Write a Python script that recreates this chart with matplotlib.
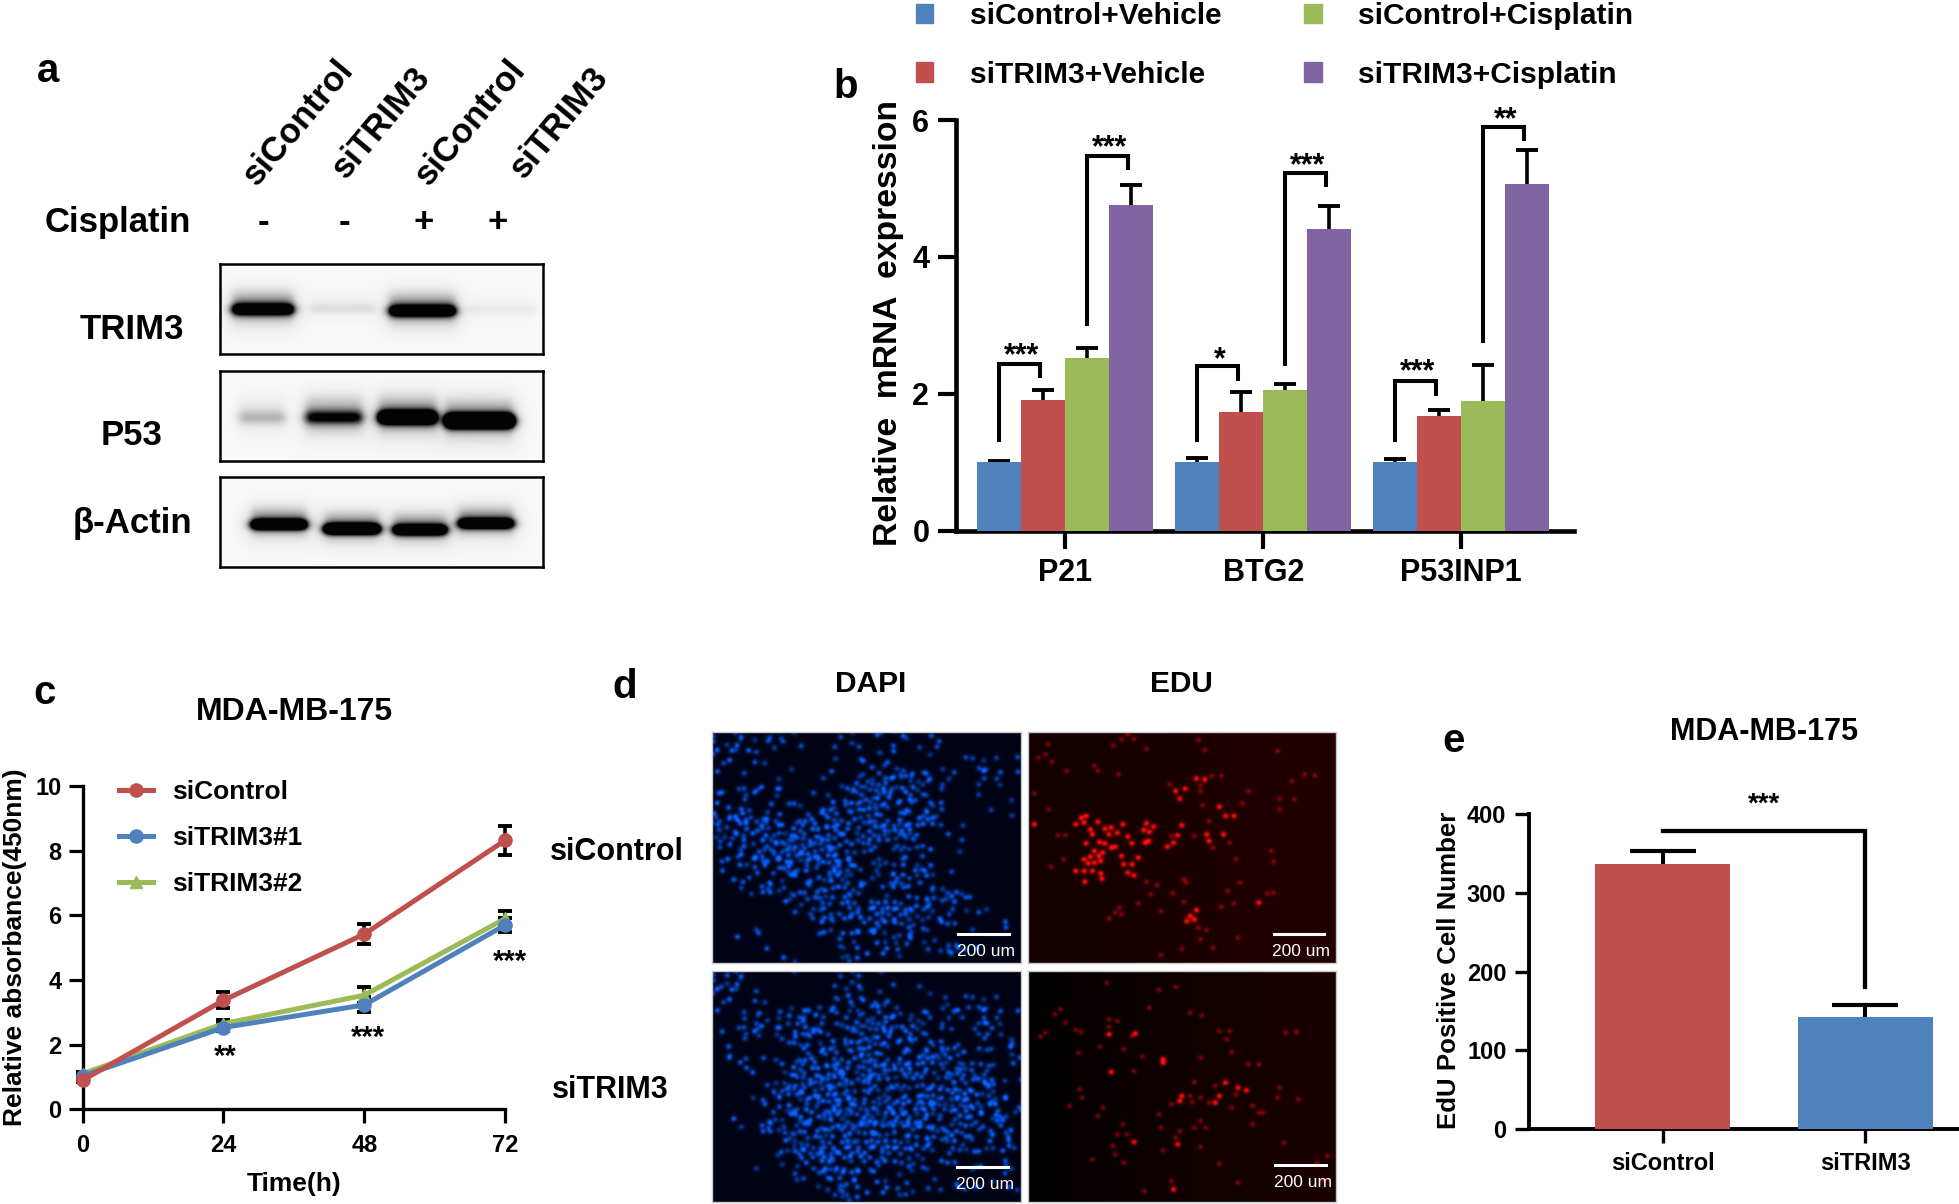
import numpy as np
import matplotlib
matplotlib.use("Agg")
import matplotlib.pyplot as plt
from matplotlib.lines import Line2D
from matplotlib.patches import Patch

plt.rcParams['font.family'] = ['Liberation Sans', 'DejaVu Sans']
plt.rcParams['font.weight'] = 'bold'

W, H = 1959, 1204
BLUE, RED, GREEN, PURPLE = '#4f81bd', '#c0504d', '#9bbb59', '#8064a2'

# ---------- panel a data ----------
blot_lanes = ['siControl', 'siTRIM3', 'siControl', 'siTRIM3']
blot_cisplatin = ['-', '-', '+', '+']
blot_names = ['TRIM3', 'P53', 'β-Actin']
trim3_strength = [1.4, 0.07, 1.5, 0.04]
p53_strength = [0.18, 0.75, 2.0, 3.0]
actin_strength = [1.9, 2.2, 1.8, 1.6]

# ---------- panel b data ----------
b_genes = ['P21', 'BTG2', 'P53INP1']
b_groups = ['siControl+Vehicle', 'siTRIM3+Vehicle', 'siControl+Cisplatin', 'siTRIM3+Cisplatin']
b_ctrl_veh = [1.00, 1.00, 1.00]
b_trim_veh = [1.91, 1.73, 1.68]
b_ctrl_cis = [2.53, 2.05, 1.90]
b_trim_cis = [4.76, 4.41, 5.07]
b_err_ctrl_veh = [0.02, 0.06, 0.05]
b_err_trim_veh = [0.15, 0.30, 0.09]
b_err_ctrl_cis = [0.14, 0.10, 0.52]
b_err_trim_cis = [0.29, 0.34, 0.49]
b_br_gene = [0, 0, 1, 1, 2, 2]
b_br_left = [0, 2, 0, 2, 0, 2]
b_br_y_left = [1.33, 3.02, 1.33, 2.43, 1.33, 2.77]
b_br_y_top = [2.43, 5.47, 2.41, 5.22, 2.18, 5.90]
b_br_y_right = [2.26, 5.30, 2.21, 5.05, 1.99, 5.72]
b_br_star = ['***', '***', '*', '***', '***', '**']
b_br_star_y = [2.69, 5.73, 2.63, 5.47, 2.46, 6.14]

# ---------- panel c data ----------
c_hours = [0, 24, 48, 72]
c_sicontrol = [0.90, 3.37, 5.42, 8.32]
c_sitrim1 = [1.03, 2.53, 3.23, 5.70]
c_sitrim2 = [1.10, 2.65, 3.53, 5.90]
c_err_sicontrol = [0.05, 0.25, 0.30, 0.45]
c_err_sitrim1 = [0.05, 0.12, 0.23, 0.23]
c_err_sitrim2 = [0.05, 0.12, 0.24, 0.24]
c_stars = ['**', '***', '***']
c_star_x = [24.3, 48.6, 72.7]
c_star_y = [1.92, 2.50, 4.84]

dapi_top = ["232112222100", "232002331131", "111014664031", "223146775111",
            "365576763101", "368885772000", "368885552100", "146676535100",
            "023353356300", "000335655410", "010013653310", "001003312210"]
dapi_bottom = ["300103100000", "210024421230", "143545543141", "132657564241",
               "112667765643", "003788867853", "013788877753", "026888998653",
               "005777777652", "002566543441", "000556410332", "000024332111"]
edu_top_bright = [(918,295),(930,290),(905,315),(925,310),(940,330),(958,308),(975,328),(990,325),(1018,315),
    (1075,312),(1092,322),(1068,332),(1082,338),(1030,352),(1005,340),(985,345),(945,345),(962,368),(975,372),
    (930,372),(950,395),(970,400),(960,410),(940,412),(925,420),(935,432),(950,430),(965,425),(990,385),
    (1000,382),(1015,410),(1040,372),(1080,365),(1072,370),(1020,435),(1030,460),(1045,468),(1040,435),
    (1055,415),(925,455),(945,455),(965,462),(968,478),(905,455),(927,487),(805,315),(1140,370),(1125,382),
    (1150,348),(1160,318),(1220,345),(1225,365),(1260,345),(1250,262),(1265,290),(1285,290),(1195,178),
    (1215,180),(1145,215),(1168,208),(1155,238),(1195,572),(1180,590),(1172,605),(1190,600),(1345,550)]
edu_top_dim = [(880,348),(862,348),(875,420),(845,442),(1135,350),(1190,350),(1235,385),(1275,370),(1210,258),
    (1225,305),(1305,252),(1232,170),(1255,170),(1205,198),(1205,215),(1130,195),(1008,165),(883,155),(848,128),
    (832,105),(815,115),(838,75),(1015,60),(1030,45),(1045,58),(995,78),(1200,62),(1215,92),(1075,88),(1390,95),
    (1480,168),(1455,165),(1425,185),(1430,240),(1395,270),(1375,395),(1380,428),(1320,215),(1290,420),(1170,490),
    (1165,480),(1100,497),(1085,525),(1075,488),(1138,522),(1055,552),(1010,565),(1015,585),(1000,580),(985,597),
    (1110,575),(1165,548),(1220,632),(1200,625),(1205,660),(1160,688),(1235,685),(1110,707),(1295,655),(1285,552),
    (1255,562),(1365,522),(1380,520),(1300,490),(1270,515),(805,222),(950,140),(958,155),(840,270),(1395,238)]
edu_bottom_bright = [(1115,1020),(1115,1030),(1295,1105),(1160,1130),(1155,1145),(1250,1130),(1240,1150),
    (1265,1090),(1315,1113),(985,945),(1048,942),(990,1058),(1045,1268),(1150,1275),(1140,1410)]
edu_bottom_dim = [(980,790),(1145,803),(1105,812),(868,870),(855,885),(880,910),(905,932),(918,938),(832,940),
    (820,952),(985,900),(1005,905),(985,922),(1040,950),(1082,865),(1208,888),(1180,880),(1250,935),(1275,935),
    (1268,960),(1410,940),(1435,938),(912,1000),(963,982),(1020,990),(1205,1015),(1280,998),(1045,1055),(1065,1012),
    (915,1110),(920,1135),(890,1160),(970,1165),(958,1190),(1190,1088),(1240,1100),(1290,1125),(1180,1130),(1185,1148),
    (1205,1135),(1225,1150),(1135,1155),(1105,1185),(1330,1160),(1345,1180),(1355,1180),(1330,1215),(1280,1165),
    (1395,1105),(1390,1135),(1440,1140),(1320,1035),(1345,1035),(1018,1215),(1005,1245),(1028,1245),(1110,1225),
    (1205,1205),(1190,1225),(1218,1225),(1155,1235),(1145,1255),(995,1280),(1000,1305),(945,1320),(1020,1330),
    (1115,1293),(1135,1385),(1070,1415),(1250,1333),(1205,1283),(1295,1390),(1405,1270),(1510,1310),(1485,1330),(1500,1385)]

# ---------- panel e data ----------
e_groups = ['siControl', 'siTRIM3']
e_values = [336.6, 143.0]
e_errors = [17.0, 14.7]


fig = plt.figure(figsize=(W / 100, H / 100), dpi=100, facecolor='white')


def px_axes(x0, y0, x1, y1):
    return fig.add_axes([x0 / W, 1 - y1 / H, (x1 - x0) / W, (y1 - y0) / H])


def label(x, y, s, size, **kw):
    kw.setdefault('ha', 'center')
    kw.setdefault('va', 'center')
    kw.setdefault('fontweight', 'bold')
    if kw.get('rotation') != 90:
        y = y + 3.5
    return fig.text(x / W, 1 - y / H, s, fontsize=size, **kw)


def stars(ax, x, y, s, size):
    ax.annotate(s, (x, y), xytext=(0, -0.59 * size), textcoords='offset points',
                ha='center', va='baseline', fontsize=size, annotation_clip=False)


def up_errorbar(ax, x, y, err, **kw):
    eb = ax.errorbar(x, y, yerr=[np.zeros(len(y)), err], fmt='none', ecolor='black', **kw)
    eb[1][0].set_visible(False)
    return eb


# ---------- panel letters ----------
for x, y, s in [(48, 67, 'a'), (846, 84, 'b'), (45, 689, 'c'), (625, 684, 'd'), (1454, 738, 'e')]:
    label(x, y, s, 29)

# ---------- panel a ----------
lane_cx = [298, 381, 470, 559]
for cx, s in zip(lane_cx, blot_lanes):
    label(cx, 119, s, 25, rotation=50, rotation_mode='anchor')
label(118, 219, 'Cisplatin', 25)
for cx, s in zip([263, 344, 424, 498], blot_cisplatin):
    label(cx, 219, s, 25)

blots = [
    ((264, 354), [(233, 293), (310, 375), (390, 455), (467, 536)], [309.5, 308.6, 311, 310], 5.5, trim3_strength, 326),
    ((371, 461), [(239, 285), (306, 362), (379, 436), (446, 513)], [417.5, 417.5, 417.5, 421], 6.5, p53_strength, 432),
    ((477, 567), [(252, 306), (325, 379), (394, 446), (459, 513)], [524.6, 529, 530, 523.6], 5.0, actin_strength, 520),
]
for name, ((y0, y1), xs, ycs, hh, amp, ly) in zip(blot_names, blots):
    ax = px_axes(220, y0, 543, y1)
    xx, yy = np.meshgrid(np.arange(220, 543) + .5, np.arange(y0, y1) + .5)
    dark = np.zeros_like(xx, dtype=float)
    for (a, b), yc, s in zip(xs, ycs, amp):
        sx = 0.5 * (np.tanh((xx - a) / 5) - np.tanh((xx - b) / 5))
        dark += s * sx * np.exp(-((yy - yc) / hh) ** 2)
        dark += 0.45 * min(s, 1) * sx * np.exp(-((yy - yc + 3) / (2.3 * hh)) ** 2)
        dark += 0.08 * min(s, 1) * 0.5 * (np.tanh((xx - a + 8) / 10) - np.tanh((xx - b - 8) / 10)) * np.exp(-((yy - yc) / (4.0 * hh)) ** 2)
    ax.imshow(0.975 - np.clip(dark, 0, 0.96), cmap='gray', vmin=0, vmax=1, aspect='auto',
              extent=(220, 543, y1, y0), interpolation='bilinear')
    ax.set_xticks([]); ax.set_yticks([])
    for sp in ax.spines.values():
        sp.set_linewidth(1.8)
    label(132, ly, name, 25)

# ---------- panel b ----------
ax = px_axes(955.7, 120, 1573.8, 530.7)
x_c = np.arange(len(b_genes))
bw = 44 / 198
series = [b_ctrl_veh, b_trim_veh, b_ctrl_cis, b_trim_cis]
errs = [b_err_ctrl_veh, b_err_trim_veh, b_err_ctrl_cis, b_err_trim_cis]
cols = [BLUE, RED, GREEN, PURPLE]
for i, (vals, er, c) in enumerate(zip(series, errs, cols)):
    pos = x_c + (i - 1.5) * bw
    up_errorbar(ax, pos, vals, er, elinewidth=2.6, capsize=7.8, capthick=2.8, zorder=2, clip_on=False)
    ax.bar(pos, vals, bw, color=c, label=b_groups[i], zorder=3)
ax.set_xlim((955.7 - 1065.3) / 198, (1573.8 - 1065.3) / 198)
ax.set_ylim(0, 6)
ax.set_xticks(x_c, b_genes)
ax.set_yticks([0, 2, 4, 6])
ax.tick_params(axis='y', length=13, width=3, labelsize=22, pad=6)
ax.tick_params(axis='x', length=13, width=3, labelsize=22, pad=7)
for s in ['top', 'right']:
    ax.spines[s].set_visible(False)
for s in ['left', 'bottom']:
    ax.spines[s].set_linewidth(3.3)
for g, l, yl, yt, yr, st, sy in zip(b_br_gene, b_br_left, b_br_y_left, b_br_y_top, b_br_y_right, b_br_star, b_br_star_y):
    xl = g + (l - 1.5) * bw
    xr = g + (l - 0.5) * bw - 0.015
    ax.plot([xl, xl, xr, xr], [yl, yt, yt, yr], color='black', lw=2.9, clip_on=False, zorder=4,
            solid_joinstyle='miter')
    stars(ax, (xl + xr) / 2 + 0.01, sy, st, 22)
label(888.5, 323, 'Relative  mRNA  expression', 24.2, rotation=90)
hs = [Patch(color=c) for c in cols]
fig.legend(hs, b_groups, loc='upper left', bbox_to_anchor=(915.5 / W, 1 - 2.0 / H), ncols=2, frameon=False,
           fontsize=21.5, borderpad=0, borderaxespad=0, handlelength=0.6, handleheight=0.65, handletextpad=1.22,
           labelspacing=1.03, columnspacing=2.75)

# ---------- panel c ----------
ax = px_axes(82.5, 785.8, 505.4, 1109.4)
for vals, er, c, m, ms, z, lab in [
    (c_sitrim2, c_err_sitrim2, GREEN, '^', 9, 3, 'siTRIM3#2'),
    (c_sitrim1, c_err_sitrim1, BLUE, 'o', 9.5, 4, 'siTRIM3#1'),
    (c_sicontrol, c_err_sicontrol, RED, 'o', 9.5, 5, 'siControl'),
]:
    ax.errorbar(c_hours, vals, yerr=er, fmt='none', ecolor='black', elinewidth=2.6, capsize=5, capthick=2.8,
                zorder=2, clip_on=False)
    ax.plot(c_hours, vals, color=c, lw=3.6, marker=m, ms=ms, zorder=z, clip_on=False, label=lab)
ax.set_xlim(0, 72)
ax.set_ylim(0, 10)
ax.set_xticks(c_hours)
ax.set_yticks(range(0, 11, 2))
ax.tick_params(axis='both', length=10, width=2.3, labelsize=17)
ax.tick_params(axis='x', pad=8)
ax.tick_params(axis='y', pad=5)
for s in ['top', 'right']:
    ax.spines[s].set_visible(False)
for s in ['left', 'bottom']:
    ax.spines[s].set_linewidth(2.4)
for x, y, s in zip(c_star_x, c_star_y, c_stars):
    stars(ax, x, y, s, 21)
handles, labels_ = ax.get_legend_handles_labels()
order = [2, 1, 0]
fig.legend([handles[i] for i in order], [labels_[i] for i in order], loc='upper left',
           bbox_to_anchor=(118.6 / W, 1 - 780 / H), frameon=False, fontsize=19, borderpad=0, borderaxespad=0,
           handlelength=1.3, handletextpad=0.74, labelspacing=0.83)
label(294.5, 708, 'MDA-MB-175', 23)
label(294, 1181, 'Time(h)', 19)
label(15, 947, 'Relative absorbance(450nm)', 19, rotation=90)

# ---------- panel d ----------
PW, PH = 308, 232
nx = np.arange(PW) + .5
ny = np.arange(PH) + .5
XX, YY = np.meshgrid(nx, ny)


def add_nuclei(field, pts, weights, sigma):
    for (x, y), w in zip(pts, weights):
        i0, i1 = max(int(x - 9), 0), min(int(x + 10), PW)
        j0, j1 = max(int(y - 9), 0), min(int(y + 10), PH)
        if i1 <= i0 or j1 <= j0:
            continue
        field[j0:j1, i0:i1] += w * np.exp(-((XX[j0:j1, i0:i1] - x) ** 2 + (YY[j0:j1, i0:i1] - y) ** 2) / (2 * sigma ** 2))


def dapi_field(rows):
    grid = np.array([[int(c) for c in r] for r in rows], dtype=float)
    pts, wts = [], []
    step = 6.0
    k = 0
    for j in range(int(PH / (step * .866)) + 1):
        for i in range(int(PW / step) + 1):
            k += 1
            u = (k * k * 0.6180339887) % 1
            v = (k * k * 0.7548776662) % 1
            t = (k * k * 0.5698402910) % 1
            x = (i + 0.5 * (j % 2)) * step + (u - .5) * 4.5
            y = j * step * .866 + (v - .5) * 4.5
            gi = np.clip(x / PW * 12 - .5, 0, 11)
            gj = np.clip(y / PH * 12 - .5, 0, 11)
            i0, j0 = int(gi), int(gj)
            i1, j1 = min(i0 + 1, 11), min(j0 + 1, 11)
            fx, fy = gi - i0, gj - j0
            d = (grid[j0, i0] * (1 - fx) * (1 - fy) + grid[j0, i1] * fx * (1 - fy)
                 + grid[j1, i0] * (1 - fx) * fy + grid[j1, i1] * fx * fy) / 9.5
            if d > ((k * k * 0.3247179572) % 1):
                pts.append((x, y))
                wts.append(0.45 + 0.5 * t)
    f = np.zeros((PH, PW))
    add_nuclei(f, pts, wts, 1.9)
    return f


def show(rect, rgb, bar, textxy):
    ax = px_axes(*rect)
    ax.imshow(np.clip(rgb, 0, 1), aspect='auto', interpolation='bilinear')
    ax.set_xticks([]); ax.set_yticks([])
    for sp in ax.spines.values():
        sp.set_edgecolor('#c9c9c9'); sp.set_linewidth(1)
    fig.add_artist(Line2D([bar[0] / W, bar[1] / W], [1 - bar[2] / H] * 2, color='white', lw=2.2))
    label(textxy[0], textxy[1], '200 um', 12.5, color='white', fontweight='normal')


def blue_rgb(f):
    f = np.clip(f, 0, 1.0)
    return np.dstack([0.0 + 0.04 * f, 0.015 + 0.36 * f, 0.085 + 0.92 * f])


def red_rgb(bright, off, dim, left, right):
    f = np.zeros((PH, PW))
    conv = lambda p: [((a - 790) / 2.412, (b - off) / 3) for a, b in p]
    add_nuclei(f, conv(bright), [1.05] * len(bright), 1.9)
    add_nuclei(f, conv(dim), [0.45] * len(dim), 1.8)
    f = np.clip(f, 0, 1)
    bg = left + (right - left) * (XX / PW)
    return np.dstack([bg + (1 - bg) * f, 0.05 * f + 0.01 * bg, 0.05 * f + 0.01 * bg])


show((712.4, 731.7, 1021, 963.3), blue_rgb(dapi_field(dapi_top)), (958, 1008.5, 934), (986, 948))
show((1027.5, 731.7, 1335.6, 963.3), red_rgb(edu_top_bright, 35, edu_top_dim, 0.07, 0.14), (1273.5, 1324, 934), (1301, 948))
show((712.4, 970.7, 1021, 1201.7), blue_rgb(dapi_field(dapi_bottom)), (957, 1007.5, 1167), (985, 1181))
show((1027.5, 970.7, 1335.6, 1201.7), red_rgb(edu_bottom_bright, 752, edu_bottom_dim, 0.01, 0.11), (1275, 1325.5, 1165), (1303, 1179))
label(871, 681, 'DAPI', 21.5)
label(1181, 681, 'EDU', 21.5)
label(617, 849, 'siControl', 22)
label(610, 1087, 'siTRIM3', 22)

# ---------- panel e ----------
ax = px_axes(1528.6, 814, 1958, 1129.3)
e_x = np.arange(len(e_groups))
spacing = 202.5
up_errorbar(ax, e_x, e_values, e_errors, elinewidth=2.9, capsize=23.5, capthick=3, zorder=2)
ax.bar(e_x, e_values, 135 / spacing, color=[RED, BLUE], zorder=3)
ax.set_xlim((1528.6 - 1662.7) / spacing, (1958 - 1662.7) / spacing)
ax.set_ylim(0, 400)
ax.set_xticks(e_x, e_groups)
ax.set_yticks(range(0, 401, 100))
ax.tick_params(axis='y', length=10, width=2.4, labelsize=17, pad=6)
ax.tick_params(axis='x', length=10, width=2.4, labelsize=17, pad=6)
for s in ['top', 'right']:
    ax.spines[s].set_visible(False)
for s in ['left', 'bottom']:
    ax.spines[s].set_linewidth(2.8)
ax.plot([0, 1, 1], [379, 379, 181], color='black', lw=3.1, clip_on=False, zorder=4, solid_joinstyle='miter')
stars(ax, 0.5, 424, '***', 20)
label(1764, 728, 'MDA-MB-175', 22)
label(1449, 970, 'EdU Positive Cell Number', 18.6, rotation=90)

fig.savefig('out.png', dpi=100, facecolor='white')
